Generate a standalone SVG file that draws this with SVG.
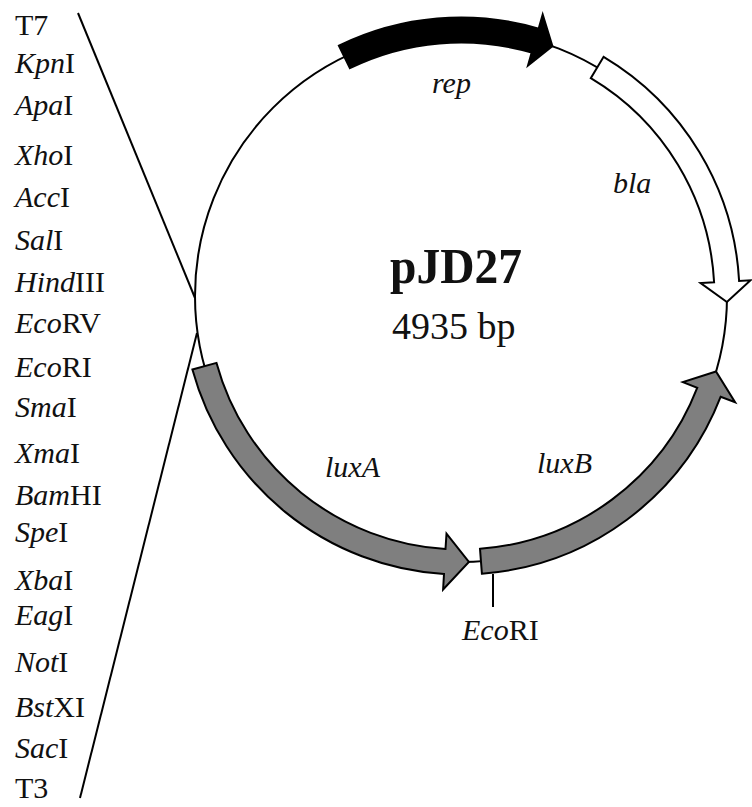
<svg xmlns="http://www.w3.org/2000/svg" width="752" height="807" viewBox="0 0 752 807">
<style>
.lbl{font-family:"Liberation Serif","Times New Roman",serif;font-size:30px;fill:#111}
.it{font-style:italic}
.gene{font-family:"Liberation Serif","Times New Roman",serif;font-size:30px;font-style:italic;fill:#111}
.ln{stroke:#000;stroke-width:2;fill:none}
.arrow{stroke:#000;stroke-width:2;stroke-linejoin:miter}
</style>
<rect width="752" height="807" fill="#fff"/>
<g id="connectors">
<circle class="ln" cx="461" cy="296" r="266"/>
<line class="ln" x1="78" y1="13" x2="195" y2="298"/>
<line class="ln" x1="80" y1="798" x2="197" y2="333"/>
<line class="ln" x1="493" y1="574" x2="493" y2="607"/>
</g>
<g id="rep">
<path class="arrow" fill="#000" d="M338.9,45.7 A278.5,278.5 0 0 1 538.7,28.6 L542.7,14.6 L552.4,46.2 L528.0,65.5 L531.7,52.6 A253.5,253.5 0 0 0 349.9,68.2 Z"/>
<text class="gene" x="432" y="93">rep</text>
</g>
<g id="bla">
<path class="arrow" fill="#fff" d="M603.6,56.8 A278.5,278.5 0 0 1 739.1,280.9 L750.6,280.3 L726.9,302.0 L700.6,283.0 L714.1,282.3 A253.5,253.5 0 0 0 590.8,78.2 Z"/>
<text class="gene" x="613" y="193">bla</text>
</g>
<g id="luxA">
<path class="arrow" fill="#7f7f7f" d="M192.4,369.5 A278.5,278.5 0 0 0 444.0,574.0 L443.1,589.5 L468.9,561.9 L446.5,533.6 L445.5,549.0 A253.5,253.5 0 0 1 216.5,362.9 Z"/>
<text class="gene" x="325" y="477">luxA</text>
</g>
<g id="luxB">
<path class="arrow" fill="#7f7f7f" d="M481.9,573.7 A278.5,278.5 0 0 0 720.7,396.7 L735.1,402.3 L716.0,371.5 L682.9,382.1 L697.3,387.7 A253.5,253.5 0 0 1 480.0,548.8 Z"/>
<text class="gene" x="537" y="473">luxB</text>
</g>
<g id="title">
<text x="390" y="283" font-family="'Liberation Serif','Times New Roman',serif" font-weight="bold" font-size="50" textLength="132" lengthAdjust="spacingAndGlyphs" fill="#111">pJD27</text>
<text x="392" y="339" font-family="'Liberation Serif','Times New Roman',serif" font-size="38" fill="#111">4935 bp</text>
</g>
<g id="ecori-site">
<text class="lbl" x="462" y="640"><tspan class="it">Eco</tspan>RI</text>
</g>
<g id="mcs-labels">
<text class="lbl" x="15" y="35">T7</text>
<text class="lbl" x="15" y="73"><tspan class="it">Kpn</tspan>I</text>
<text class="lbl" x="15" y="115"><tspan class="it">Apa</tspan>I</text>
<text class="lbl" x="15" y="165"><tspan class="it">Xho</tspan>I</text>
<text class="lbl" x="15" y="207"><tspan class="it">Acc</tspan>I</text>
<text class="lbl" x="15" y="250"><tspan class="it">Sal</tspan>I</text>
<text class="lbl" x="15" y="292"><tspan class="it">Hind</tspan>III</text>
<text class="lbl" x="15" y="333"><tspan class="it">Eco</tspan>RV</text>
<text class="lbl" x="15" y="377"><tspan class="it">Eco</tspan>RI</text>
<text class="lbl" x="15" y="417"><tspan class="it">Sma</tspan>I</text>
<text class="lbl" x="15" y="463"><tspan class="it">Xma</tspan>I</text>
<text class="lbl" x="15" y="505"><tspan class="it">Bam</tspan>HI</text>
<text class="lbl" x="15" y="542"><tspan class="it">Spe</tspan>I</text>
<text class="lbl" x="15" y="590"><tspan class="it">Xba</tspan>I</text>
<text class="lbl" x="15" y="625"><tspan class="it">Eag</tspan>I</text>
<text class="lbl" x="15" y="672"><tspan class="it">Not</tspan>I</text>
<text class="lbl" x="15" y="717"><tspan class="it">Bst</tspan>XI</text>
<text class="lbl" x="15" y="758"><tspan class="it">Sac</tspan>I</text>
<text class="lbl" x="15" y="798">T3</text>
</g>
</svg>
